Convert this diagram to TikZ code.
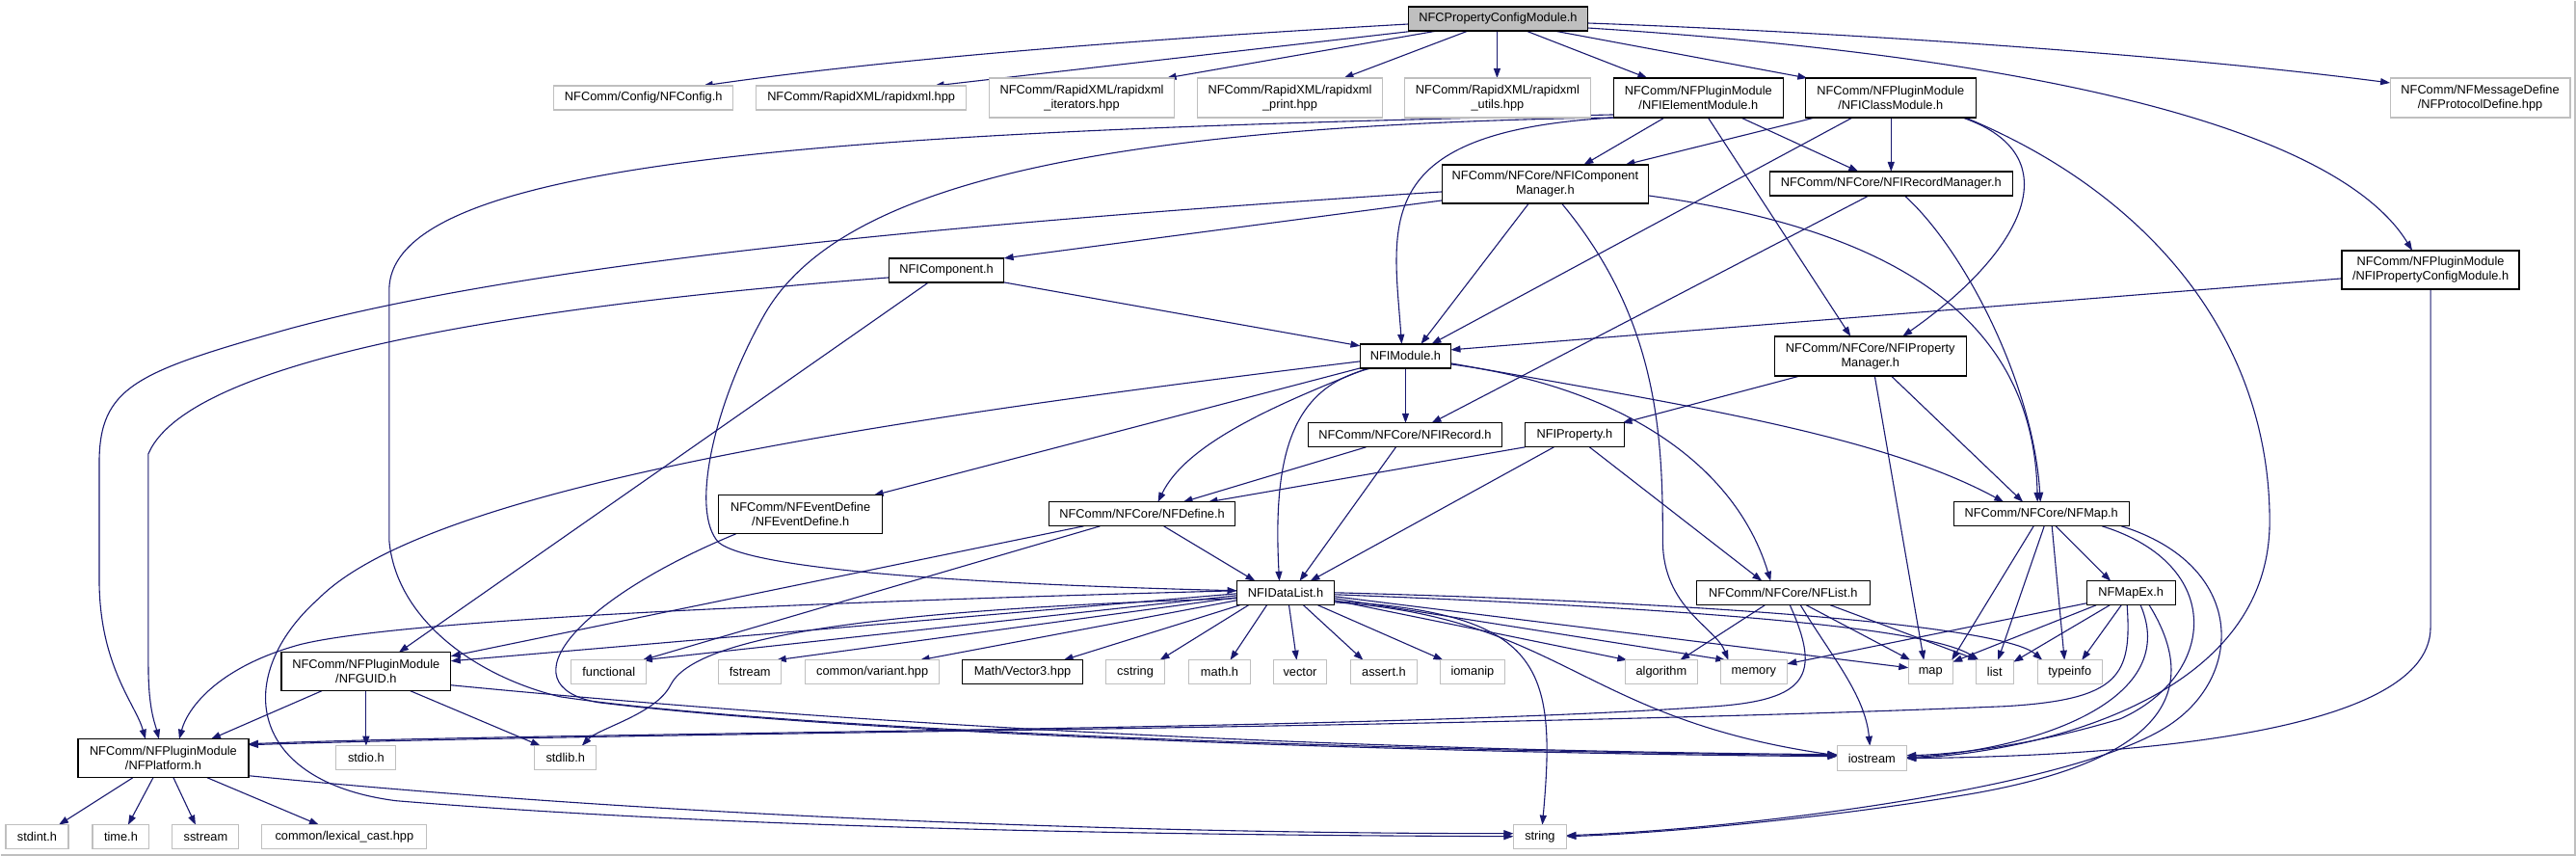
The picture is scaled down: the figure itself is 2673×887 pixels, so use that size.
\documentclass[tikz,border=0pt]{standalone}
\usepackage{fontspec}
\setmainfont{Liberation Sans}
\usetikzlibrary{arrows.meta}
\definecolor{edgeblue}{HTML}{191970}
\definecolor{graybd}{HTML}{BFBFBF}
\pgfdeclarelayer{back}
\pgfdeclarelayer{edges}
\pgfsetlayers{back,edges,main}
\begin{document}
\begin{tikzpicture}[x=1pt,y=-1pt,
  box/.style={anchor=north west, inner sep=0pt, outer sep=0pt, font=\fontsize{12.8}{15}\selectfont, align=center, line width=1.1pt, fill=white},
  sysn/.style={box, draw=graybd},
  docn/.style={box, draw=black, line width=1.3pt},
  rootn/.style={box, draw=black, line width=1.3pt, fill=graybd},
  dep/.style={draw=edgeblue, line width=1.1pt, -{Triangle[length=10pt,width=7pt]}}]

\begin{pgfonlayer}{back}
\fill[white] (0,0) rectangle (2673,887);
\draw[graybd, line width=2pt] (0,886) -- (2672,886) -- (2672,0);
\end{pgfonlayer}
\useasboundingbox (0,0) rectangle (2673,887);

% ---------- nodes ----------
\node[rootn, minimum width=186pt, minimum height=25pt] (root) at (1461,6) {NFCPropertyConfigModule.h};
\node[sysn, minimum width=186pt, minimum height=25pt] (cfg) at (574,88) {NFComm/Config/NFConfig.h};
\node[sysn, minimum width=218pt, minimum height=25pt] (rx) at (784,88) {NFComm/RapidXML/rapidxml.hpp};
\node[sysn, minimum width=192pt, minimum height=41pt] (rxi) at (1026,80) {NFComm/RapidXML/rapidxml\\\_iterators.hpp};
\node[sysn, minimum width=192pt, minimum height=41pt] (rxp) at (1242,80) {NFComm/RapidXML/rapidxml\\\_print.hpp};
\node[sysn, minimum width=193pt, minimum height=41pt] (rxu) at (1457,80) {NFComm/RapidXML/rapidxml\\\_utils.hpp};
\node[docn, minimum width=176pt, minimum height=41pt] (elem) at (1674,80) {NFComm/NFPluginModule\\/NFIElementModule.h};
\node[docn, minimum width=177pt, minimum height=41pt] (cls) at (1873,80) {NFComm/NFPluginModule\\/NFIClassModule.h};
\node[sysn, minimum width=187pt, minimum height=41pt] (proto) at (2480,80) {NFComm/NFMessageDefine\\/NFProtocolDefine.hpp};
\node[docn, minimum width=214pt, minimum height=40pt] (cmgr) at (1496,170) {NFComm/NFCore/NFIComponent\\Manager.h};
\node[docn, minimum width=252pt, minimum height=25pt] (rmgr) at (1836,177) {NFComm/NFCore/NFIRecordManager.h};
\node[docn, minimum width=184pt, minimum height=40pt] (pcm) at (2430,259) {NFComm/NFPluginModule\\/NFIPropertyConfigModule.h};
\node[docn, minimum width=119pt, minimum height=25pt] (comp) at (922,267) {NFIComponent.h};
\node[docn, minimum width=94pt, minimum height=25pt] (mod) at (1411,356) {NFIModule.h};
\node[docn, minimum width=199pt, minimum height=41pt] (pmgr) at (1841,348) {NFComm/NFCore/NFIProperty\\Manager.h};
\node[docn, minimum width=201pt, minimum height=25pt] (rec) at (1357,438) {NFComm/NFCore/NFIRecord.h};
\node[docn, minimum width=103pt, minimum height=25pt] (prop) at (1582,438) {NFIProperty.h};
\node[docn, minimum width=170pt, minimum height=40pt] (evt) at (745,513) {NFComm/NFEventDefine\\/NFEventDefine.h};
\node[docn, minimum width=193pt, minimum height=25pt] (def) at (1088,520) {NFComm/NFCore/NFDefine.h};
\node[docn, minimum width=182pt, minimum height=25pt] (nfmap) at (2027,520) {NFComm/NFCore/NFMap.h};
\node[docn, minimum width=101pt, minimum height=25pt] (dl) at (1283,602) {NFIDataList.h};
\node[docn, minimum width=180pt, minimum height=25pt] (nflist) at (1760,602) {NFComm/NFCore/NFList.h};
\node[docn, minimum width=92pt, minimum height=25pt] (mapex) at (2165,602) {NFMapEx.h};
\node[docn, minimum width=176pt, minimum height=40pt] (guid) at (291,676) {NFComm/NFPluginModule\\/NFGUID.h};
\node[sysn, minimum width=78pt, minimum height=25pt] (functional) at (592,684) {functional};
\node[sysn, minimum width=65pt, minimum height=25pt] (fstream) at (745,684) {fstream};
\node[sysn, minimum width=139pt, minimum height=25pt] (variant) at (835,684) {common/variant.hpp};
\node[docn, minimum width=125pt, minimum height=25pt] (vec3) at (998,684) {Math/Vector3.hpp};
\node[sysn, minimum width=61pt, minimum height=25pt] (cstring) at (1147,684) {cstring};
\node[sysn, minimum width=64pt, minimum height=25pt] (mathh) at (1233,684) {math.h};
\node[sysn, minimum width=55pt, minimum height=25pt] (vector) at (1321,684) {vector};
\node[sysn, minimum width=69pt, minimum height=25pt] (assert) at (1401,684) {assert.h};
\node[sysn, minimum width=67pt, minimum height=25pt] (iomanip) at (1494,684) {iomanip};
\node[sysn, minimum width=75pt, minimum height=25pt] (algorithm) at (1686,684) {algorithm};
\node[sysn, minimum width=69pt, minimum height=25pt] (memory) at (1785,684) {memory};
\node[sysn, minimum width=46pt, minimum height=25pt] (mapS) at (1980,684) {map};
\node[sysn, minimum width=39pt, minimum height=25pt] (listS) at (2050,684) {list};
\node[sysn, minimum width=67pt, minimum height=25pt] (typeinfo) at (2114,684) {typeinfo};
\node[docn, minimum width=177pt, minimum height=40pt] (plat) at (80,766) {NFComm/NFPluginModule\\/NFPlatform.h};
\node[sysn, minimum width=62pt, minimum height=25pt] (stdio) at (348,773) {stdio.h};
\node[sysn, minimum width=64pt, minimum height=25pt] (stdlib) at (554,773) {stdlib.h};
\node[sysn, minimum width=72pt, minimum height=26pt] (iostream) at (1906,773) {iostream};
\node[sysn, minimum width=65pt, minimum height=25pt] (stdint) at (5,855) {stdint.h};
\node[sysn, minimum width=59pt, minimum height=25pt] (timeh) at (95,855) {time.h};
\node[sysn, minimum width=69pt, minimum height=25pt] (sstream) at (178,855) {sstream};
\node[sysn, minimum width=171pt, minimum height=25pt] (lexical) at (271,855) {common/lexical\_cast.hpp};
\node[sysn, minimum width=55pt, minimum height=25pt] (string) at (1570,855) {string};

% ---------- edges ----------
\begin{pgfonlayer}{edges}
% root
\draw[dep] ([yshift=-18pt]root.north west) .. controls (1250,36) and (950,56) .. ([xshift=155pt]cfg.north west);
\draw[dep] ([xshift=7pt]root.south west) -- ([xshift=185pt]rx.north west);
\draw[dep] ([xshift=30pt]root.south west) -- ([xshift=184pt]rxi.north west);
\draw[dep] ([xshift=62pt]root.south west) -- ([xshift=152pt]rxp.north west);
\draw[dep] ([xshift=92pt]root.south west) -- ([xshift=96pt]rxu.north west);
\draw[dep] ([xshift=122pt]root.south west) -- ([xshift=35pt]elem.north west);
\draw[dep] ([xshift=151pt]root.south west) -- ([xshift=2pt]cls.north west);
\draw[dep] ([yshift=-17pt]root.north east) .. controls (1900,32) and (2250,55) .. ([yshift=-5pt]proto.north west);
\draw[dep] ([yshift=-22pt]root.north east) .. controls (2150,60) and (2430,140) .. ([xshift=73pt]pcm.north west);
% elem
\draw[dep] ([xshift=53pt]elem.south west) -- ([xshift=147pt]cmgr.north west);
\draw[dep] ([xshift=132pt]elem.south west) -- ([xshift=92pt]rmgr.north west);
\draw[dep] ([xshift=98pt]elem.south west) -- ([xshift=79pt]pmgr.north west);
\draw[dep] ([xshift=2pt]elem.south west) .. controls (1420,135) and (1445,230) .. ([xshift=43pt]mod.north west);
\draw[dep] (elem.south west) .. controls (1100,130) and (860,200) .. (790,330) .. controls (740,420) and (715,530) .. (745,562) .. controls (780,590) and (1000,605) .. ([yshift=-10pt]dl.north west);
\draw[dep] ([yshift=-38pt]elem.north west) .. controls (900,135) and (403,160) .. (403,300) -- (403,560) .. controls (410,640) and (490,700) .. (580,722) .. controls (800,755) and (1400,778) .. ([yshift=-10pt]iostream.north west);
% cls
\draw[dep] ([xshift=10pt]cls.south west) -- ([xshift=190pt]cmgr.north west);
\draw[dep] ([xshift=49pt]cls.south west) -- ([xshift=74pt]mod.north west);
\draw[dep] ([xshift=89pt]cls.south west) -- ([xshift=126pt]rmgr.north west);
\draw[dep] ([xshift=163pt]cls.south west) .. controls (2150,160) and (2100,260) .. ([xshift=133pt]pmgr.north west);
\draw[dep] ([xshift=166pt]cls.south west) .. controls (2230,200) and (2355,350) .. (2355,540) .. controls (2355,730) and (2100,780) .. ([yshift=-13pt]iostream.north east);
% rmgr
\draw[dep] ([xshift=103pt]rmgr.south west) -- ([xshift=128pt]rec.north west);
\draw[dep] ([xshift=140pt]rmgr.south west) .. controls (2040,260) and (2110,400) .. ([xshift=90pt]nfmap.north west);
% cmgr
\draw[dep] ([yshift=-37pt]cmgr.north west) -- (comp.north east);
\draw[dep] ([yshift=-28pt]cmgr.north west) .. controls (1000,230) and (560,270) .. (300,340) .. controls (140,385) and (102,400) .. (102,480) -- (102,600) .. controls (102,690) and (140,730) .. ([xshift=70pt]plat.north west);
\draw[dep] ([xshift=90pt]cmgr.south west) -- ([xshift=63pt]mod.north west);
\draw[dep] ([xshift=124pt]cmgr.south west) .. controls (1720,330) and (1725,450) .. (1725,560) .. controls (1725,630) and (1780,650) .. ([xshift=8pt]memory.north west);
\draw[dep] ([yshift=-32pt]cmgr.north east) .. controls (1950,235) and (2110,320) .. ([xshift=87pt]nfmap.north west);
% comp
\draw[dep] (comp.south east) -- ([yshift=-2pt]mod.north west);
\draw[dep] ([yshift=-20pt]comp.north west) .. controls (620,310) and (200,360) .. (153,470) -- (153,690) .. controls (153,735) and (160,750) .. ([xshift=84pt]plat.north west);
\draw[dep] ([xshift=41pt]comp.south west) -- ([xshift=122pt]guid.north west);
% pcm
\draw[dep] ([yshift=-29pt]pcm.north west) -- ([yshift=-6pt]mod.north east);
\draw[dep] ([xshift=92pt]pcm.south west) -- (2522,650) .. controls (2522,770) and (2150,784) .. ([yshift=-13pt]iostream.north east);
% mod
\draw[dep] ([xshift=47pt]mod.south west) -- ([xshift=101pt]rec.north west);
\draw[dep] ([xshift=8pt]mod.south west) .. controls (1320,420) and (1230,460) .. ([xshift=113pt]def.north west);
\draw[dep] (mod.south west) -- ([xshift=161pt]evt.north west);
\draw[dep] ([yshift=-18pt]mod.north west) .. controls (950,430) and (450,500) .. (330,620) .. controls (240,700) and (255,810) .. (410,830) .. controls (800,862) and (1300,866) .. ([yshift=-12pt]string.north west);
\draw[dep] ([xshift=12pt]mod.south west) .. controls (1340,400) and (1320,470) .. ([xshift=44pt]dl.north west);
\draw[dep] ([yshift=-20pt]mod.north east) .. controls (1750,420) and (1950,450) .. ([xshift=52pt]nfmap.north west);
\draw[dep] ([yshift=-21pt]mod.north east) .. controls (1680,400) and (1800,480) .. ([xshift=77pt]nflist.north west);
% rec
\draw[dep] ([xshift=60pt]rec.south west) -- ([xshift=139pt]def.north west);
\draw[dep] ([xshift=91pt]rec.south west) -- ([xshift=65pt]dl.north west);
% prop
\draw[dep] (prop.south west) -- ([xshift=165pt]def.north west);
\draw[dep] ([xshift=30pt]prop.south west) -- ([xshift=76pt]dl.north west);
\draw[dep] ([xshift=67pt]prop.south west) -- ([xshift=68pt]nflist.north west);
% pmgr
\draw[dep] ([xshift=27pt]pmgr.south west) -- ([xshift=101pt]prop.north west);
\draw[dep] ([xshift=121pt]pmgr.south west) -- ([xshift=72pt]nfmap.north west);
\draw[dep] ([xshift=104pt]pmgr.south west) -- ([xshift=16pt]mapS.north west);
% evt
\draw[dep] ([xshift=18pt]evt.south west) .. controls (600,620) and (520,710) .. (620,728) .. controls (900,762) and (1500,781) .. ([yshift=-11pt]iostream.north west);
% def
\draw[dep] ([xshift=36pt]def.south west) -- ([yshift=-4pt]guid.north east);
\draw[dep] ([xshift=53pt]def.south west) -- ([xshift=74pt]functional.north west);
\draw[dep] ([xshift=119pt]def.south west) -- ([xshift=19pt]dl.north west);
% nfmap
\draw[dep] ([xshift=106pt]nfmap.south west) -- ([xshift=25pt]mapex.north west);
\draw[dep] ([xshift=83pt]nfmap.south west) -- ([xshift=45pt]mapS.north west);
\draw[dep] ([xshift=94pt]nfmap.south west) -- ([xshift=23pt]listS.north west);
\draw[dep] ([xshift=102pt]nfmap.south west) -- ([xshift=28pt]typeinfo.north west);
\draw[dep] ([xshift=154pt]nfmap.south west) .. controls (2310,585) and (2300,700) .. (2200,745) .. controls (2100,775) and (2020,782) .. ([yshift=-10pt]iostream.north east);
\draw[dep] ([xshift=174pt]nfmap.south west) .. controls (2330,585) and (2330,700) .. (2250,752) .. controls (2150,818) and (1800,860) .. ([yshift=-11pt]string.north east);
% nflist
\draw[dep] ([xshift=71pt]nflist.south west) -- ([xshift=57pt]algorithm.north west);
\draw[dep] ([xshift=114pt]nflist.south west) -- ([xshift=2pt]mapS.north west);
\draw[dep] ([xshift=139pt]nflist.south west) -- ([xshift=2pt]listS.north west);
\draw[dep] ([xshift=108pt]nflist.south west) .. controls (1900,680) and (1935,720) .. ([xshift=34pt]iostream.north west);
\draw[dep] ([xshift=97pt]nflist.south west) .. controls (1890,700) and (1875,725) .. (1780,732) .. controls (1400,758) and (600,758) .. ([yshift=-5pt]plat.north east);
% mapex
\draw[dep] ([xshift=42pt]mapex.south west) .. controls (2212,700) and (2200,725) .. (2080,732) .. controls (1500,756) and (700,758) .. ([yshift=-6pt]plat.north east);
\draw[dep] ([yshift=-23pt]mapex.north west) -- ([yshift=-4pt]memory.north east);
\draw[dep] ([xshift=10pt]mapex.south west) -- ([yshift=-2pt]mapS.north east);
\draw[dep] ([xshift=24pt]mapex.south west) -- ([yshift=-2pt]listS.north east);
\draw[dep] ([xshift=36pt]mapex.south west) -- ([xshift=46pt]typeinfo.north west);
\draw[dep] ([xshift=56pt]mapex.south west) .. controls (2265,730) and (2100,778) .. ([yshift=-12pt]iostream.north east);
\draw[dep] ([xshift=65pt]mapex.south west) .. controls (2300,740) and (2200,795) .. (2050,822) .. controls (1900,848) and (1720,864) .. ([yshift=-12pt]string.north east);
% dl
\draw[dep] ([yshift=-10pt]dl.north west) .. controls (900,622) and (420,640) .. (310,668) .. controls (230,690) and (195,730) .. ([xshift=105pt]plat.north west);
\draw[dep] ([yshift=-13pt]dl.north west) -- ([yshift=-9pt]guid.north east);
\draw[dep] ([yshift=-15pt]dl.north west) -- ([xshift=74pt]functional.north west);
\draw[dep] ([yshift=-17pt]dl.north west) -- ([xshift=60pt]fstream.north west);
\draw[dep] ([yshift=-18pt]dl.north west) .. controls (900,632) and (720,660) .. (695,710) .. controls (680,740) and (620,755) .. ([xshift=49pt]stdlib.north west);
\draw[dep] ([yshift=-20pt]dl.north west) -- ([xshift=119pt]variant.north west);
\draw[dep] ([xshift=3pt]dl.south west) -- ([xshift=105pt]vec3.north west);
\draw[dep] ([xshift=12pt]dl.south west) -- ([xshift=56pt]cstring.north west);
\draw[dep] ([xshift=31pt]dl.south west) -- ([xshift=43pt]mathh.north west);
\draw[dep] ([xshift=54pt]dl.south west) -- ([xshift=24pt]vector.north west);
\draw[dep] ([xshift=69pt]dl.south west) -- ([xshift=13pt]assert.north west);
\draw[dep] ([xshift=84pt]dl.south west) -- ([xshift=3pt]iomanip.north west);
\draw[dep] ([yshift=-20pt]dl.north east) -- ([xshift=2pt]algorithm.north west);
\draw[dep] ([yshift=-18pt]dl.north east) -- ([xshift=5pt]memory.north west);
\draw[dep] ([yshift=-16pt]dl.north east) -- ([yshift=-8pt]mapS.north west);
\draw[dep] ([yshift=-14pt]dl.north east) .. controls (1750,630) and (2000,650) .. ([xshift=3pt]listS.north west);
\draw[dep] ([yshift=-12pt]dl.north east) .. controls (1800,625) and (2080,650) .. ([xshift=5pt]typeinfo.north west);
\draw[dep] ([yshift=-22pt]dl.north east) .. controls (1620,640) and (1640,745) .. ([yshift=-10pt]iostream.north west);
\draw[dep] ([yshift=-21pt]dl.north east) .. controls (1600,635) and (1615,690) .. ([xshift=30pt]string.north west);
% guid
\draw[dep] ([xshift=42pt]guid.south west) -- ([xshift=138pt]plat.north west);
\draw[dep] ([xshift=88pt]guid.south west) -- ([xshift=31pt]stdio.north west);
\draw[dep] ([xshift=134pt]guid.south west) -- ([xshift=6pt]stdlib.north west);
\draw[dep] ([yshift=-34pt]guid.north east) .. controls (900,752) and (1400,778) .. ([yshift=-9pt]iostream.north west);
% plat
\draw[dep] ([xshift=57pt]plat.south west) -- ([xshift=55pt]stdint.north west);
\draw[dep] ([xshift=78pt]plat.south west) -- ([xshift=37pt]timeh.north west);
\draw[dep] ([xshift=99pt]plat.south west) -- ([xshift=24pt]sstream.north west);
\draw[dep] ([xshift=134pt]plat.south west) -- ([xshift=59pt]lexical.north west);
\draw[dep] ([yshift=-38pt]plat.north east) .. controls (700,848) and (1200,864) .. ([yshift=-9pt]string.north west);
\end{pgfonlayer}
\end{tikzpicture}
\end{document}
